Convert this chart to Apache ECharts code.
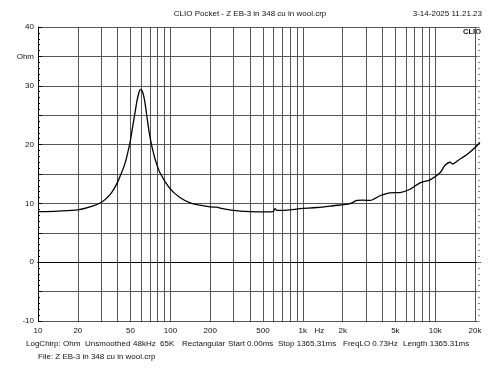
<!DOCTYPE html>
<html><head><meta charset="utf-8">
<script src="https://cdn.jsdelivr.net/npm/echarts@6/dist/echarts.min.js"></script>
<style>html,body{margin:0;padding:0;background:#fff}#c{width:500px;height:375px}</style>
</head><body><div id="c"></div>
<script>
const freqs = [10,14.2,20,24.7,30.2,35,37.6,40.6,45.4,49.5,50.9,54,56.1,58.1,59.7,61.2,62.8,64.3,66.9,70.1,73.1,76.5,83.4,99.3,118,141,167,199,225,237,297,399,537,597,617,638,672,800,952,1280,1690,2271,2564,2849,3218,3829,4560,5423,6453,7677,9137,10870,11860,12940,13550,14860,17380,20000,21790];
const ohms  = [8.6,8.7,8.9,9.4,10.2,11.5,12.5,14.0,16.8,20.3,21.9,25.4,27.6,29.0,29.4,29.1,28.3,27.1,24.3,21.3,19.3,17.6,15.2,12.5,11.0,10.1,9.7,9.4,9.35,9.2,8.8,8.6,8.55,8.6,9.1,8.8,8.8,8.9,9.1,9.3,9.6,9.95,10.5,10.55,10.5,11.3,11.8,11.85,12.4,13.5,14.0,15.2,16.5,17.0,16.7,17.3,18.3,19.5,20.4];
const xTickValues = [10,20,30,40,50,60,70,80,90,100,200,300,400,500,600,700,800,900,1000,2000,3000,4000,5000,6000,7000,8000,9000,10000,20000];
const xLabelValues = [10,20,50,100,200,500,1000,1333,2000,5000,10000,20000];
const xLabelTexts = ['10','20','50','100','200','500','1k','Hz','2k','5k','10k','20k'];
const yLabels = {'40':'40','35':'Ohm','30':'30','20':'20','10':'10','0':'0','-10':'-10'};
const titleText = 'CLIO Pocket - Z EB-3 in 348 cu in wool.crp';
const dateText = '3-14-2025 11.21.23';
const infoWords = ['LogChirp:','Ohm','Unsmoothed','48kHz','65K','Rectangular','Start 0.00ms','Stop 1365.31ms','FreqLO 0.73Hz','Length 1365.31ms'];
const fileText = 'File: Z EB-3 in 348 cu in wool.crp';

const infoLeft = [26,63,85,133,160,182,228,278,343,403];
const font = '"Liberation Sans", Arial, sans-serif';
const chart = echarts.init(document.getElementById('c'), null, {renderer:'canvas'});
const gridCol = '#555';
const txt = (t,x,y,size,align,weight)=>({type:'text',x:x,y:y,silent:true,
  style:{text:t,x:0,y:0,fill:'#111',font:(weight||'normal')+' '+size+'px '+font,textAlign:align||'left',textVerticalAlign:'middle'}});
const graphics = [
  txt(titleText,250,13.5,8,'center'),
  txt(dateText,482,13.5,8,'right'),
  txt('CLIO',481,31.5,7.5,'right','bold'),
  txt(fileText,38,357,8,'left')
].concat(infoWords.map((w,i)=>txt(w,infoLeft[i],344,8,'left')));
chart.setOption({
  animation:false,
  backgroundColor:'#fff',
  textStyle:{fontFamily:font},
  graphic:graphics,
  grid:{left:38,right:20,top:27,bottom:54,containLabel:false},
  xAxis:[{
    type:'log',logBase:10,min:10,max:21790,position:'bottom',
    axisLine:{show:true,lineStyle:{color:'#000',width:1}},
    axisTick:{show:false,customValues:xTickValues},
    splitLine:{show:true,lineStyle:{color:gridCol,width:1}},
    axisLabel:{show:true,customValues:xLabelValues,margin:6,fontSize:8,color:'#111',fontFamily:font,
      formatter:function(v){const i=xLabelValues.findIndex(x=>Math.abs(x-v)/x<0.01);return i>=0?xLabelTexts[i]:'';}}
  },{
    type:'log',logBase:10,min:10,max:21790,position:'top',
    axisLine:{show:true,lineStyle:{color:'#000',width:1}},
    axisTick:{show:false},axisLabel:{show:false},splitLine:{show:false}
  }],
  yAxis:[{
    type:'value',min:-10,max:40,interval:5,position:'left',
    axisLine:{show:true,lineStyle:{color:'#000',width:1}},
    axisTick:{show:true,inside:true,length:4,lineStyle:{color:'#000'}},
    minorTick:{show:true,splitNumber:5,length:2,lineStyle:{color:'#000'}},
    splitLine:{show:true,lineStyle:{color:gridCol,width:1}},
    axisLabel:{margin:4,fontSize:8,color:'#111',fontFamily:font,formatter:function(v){return yLabels[String(v)]||'';}}
  },{
    type:'value',min:-10,max:40,interval:5,position:'right',
    axisLine:{show:false},
    axisTick:{show:true,inside:true,length:3,lineStyle:{color:'#888'}},
    minorTick:{show:true,splitNumber:5,length:2,lineStyle:{color:'#888'}},
    splitLine:{show:false},axisLabel:{show:false}
  }],
  series:[{
    type:'line',xAxisIndex:0,yAxisIndex:0,
    data:freqs.map((f,i)=>[f,ohms[i]]),
    showSymbol:false,smooth:0.3,
    lineStyle:{color:'#000',width:1.3}
  }]
});
</script></body></html>
